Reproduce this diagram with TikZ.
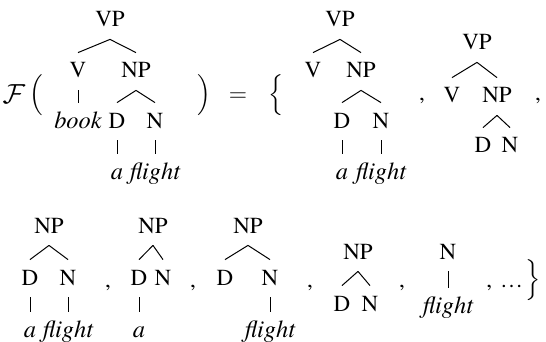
\documentclass[tikz,border=0pt]{standalone}
\usepackage{graphicx}
\usepackage{fontspec}
\setmainfont{texgyretermes}[Extension=.otf,UprightFont=*-regular,ItalicFont=*-italic,BoldFont=*-bold,BoldItalicFont=*-bolditalic]
\usetikzlibrary{calc}
\tikzset{
  cat/.style={anchor=base,inner sep=0pt,text height=7.5pt,text depth=0pt,font=\fontsize{11.5}{13}\selectfont},
  wrd/.style={cat,font=\fontsize{12.2}{14}\selectfont\itshape},
  mth/.style={anchor=base,inner sep=0pt,font=\fontsize{11.5}{13}\selectfont},
  brn/.style={line width=0.5pt},
}

\begin{document}
\begin{tikzpicture}[x=0.5pt,y=-0.5pt]
  \useasboundingbox (0,0) rectangle (546,342);

  % F( ... ) = {
  \node[mth] (fA) at (14,104) {\scalebox{1.15}{$\mathcal{F}$}};
  \node[mth] (lpA) at (36,102) {\scalebox{1.14}{$\Big($}};
  \node[mth] (rpA) at (204,102) {\scalebox{1.14}{$\Big)$}};
  \node[mth] (eqA) at (238,102) {$=$};
  \node[mth] (lbr) at (276,102) {\scalebox{1.14}{$\Big\{$}};

  % tree in the argument
  \node[cat] (vpA) at (110,27) {VP};
  \node[cat] (vA) at (78,78) {V};
  \node[cat] (npA) at (136,78) {NP};
  \node[wrd] (bookA) at (78,128) {book};
  \node[cat] (dA) at (117,128) {D};
  \node[cat] (nA) at (155,128) {N};
  \node[wrd] (aA) at (117,179) {a};
  \node[wrd] (flA) at (155,179) {flight};

  % first row of fragments
  \node[cat] (vpB) at (340,27) {VP};
  \node[cat] (vB) at (313,78) {V};
  \node[cat] (npB) at (361,78) {NP};
  \node[cat] (dB) at (342,128) {D};
  \node[cat] (nB) at (381,128) {N};
  \node[wrd] (aB) at (342,179) {a};
  \node[wrd] (flB) at (381,179) {flight};
  \node[mth] (cmB) at (422,101) {,};

  \node[cat] (vpC) at (477,50) {VP};
  \node[cat] (vC) at (452,103) {V};
  \node[cat] (npC) at (497,103) {NP};
  \node[cat] (dC) at (483,153) {D};
  \node[cat] (nC) at (510,153) {N};
  \node[mth] (cmC) at (538,101) {,};

  % second row of fragments
  \node[cat] (npD) at (49,233) {NP};
  \node[cat] (dD) at (30,285) {D};
  \node[cat] (nD) at (68,285) {N};
  \node[wrd] (aD) at (30,337) {a};
  \node[wrd] (flD) at (68,337) {flight};
  \node[mth] (cmD) at (108,287) {,};

  \node[cat] (npE) at (153,233) {NP};
  \node[cat] (dE) at (139,285) {D};
  \node[cat] (nE) at (163,285) {N};
  \node[wrd] (aE) at (139,337) {a};
  \node[mth] (cmE) at (193,287) {,};

  \node[cat] (npF) at (248,233) {NP};
  \node[cat] (dF) at (225,285) {D};
  \node[cat] (nF) at (270,285) {N};
  \node[wrd] (flF) at (270,337) {flight};
  \node[mth] (cmF) at (310,287) {,};

  \node[cat] (npG) at (358,259) {NP};
  \node[cat] (dG) at (342,311) {D};
  \node[cat] (nG) at (370,311) {N};
  \node[mth] (cmG) at (402,287) {,};

  \node[cat] (nH) at (448,259) {N};
  \node[wrd] (flH) at (448,313) {flight};
  \node[mth,anchor=base west] (dots) at (486,287) {,\hspace{4pt}\ldots};
  \node[mth] (rbr) at (533,287) {\scalebox{1.14}{$\Big\}$}};

  % branches
  \foreach \p/\c in {vpA/vA,vpA/npA,vA/bookA,npA/dA,npA/nA,dA/aA,nA/flA,
                     vpB/vB,vpB/npB,npB/dB,npB/nB,dB/aB,nB/flB,
                     vpC/vC,vpC/npC,npC/dC,npC/nC,
                     npD/dD,npD/nD,dD/aD,nD/flD,
                     npE/dE,npE/nE,dE/aE,
                     npF/dF,npF/nF,nF/flF,
                     npG/dG,npG/nG,nH/flH}
    \draw[brn] ([yshift=-6pt]\p.south) -- ([yshift=5pt]\c.north);
\end{tikzpicture}
\end{document}
